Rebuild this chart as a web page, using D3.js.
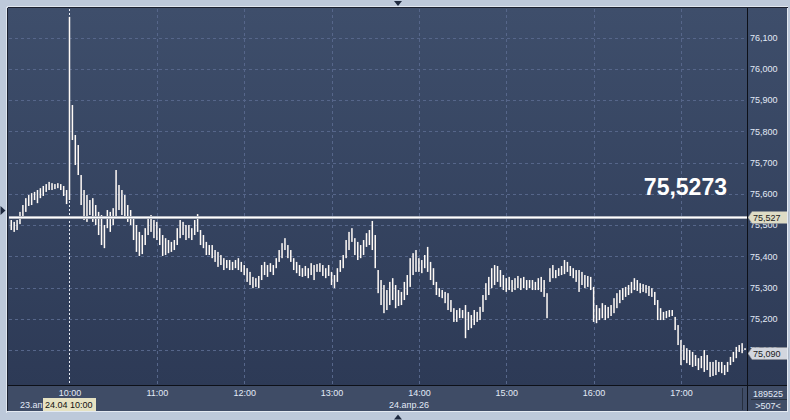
<!DOCTYPE html>
<html><head><meta charset="utf-8">
<script src="https://cdn.jsdelivr.net/npm/d3@7"></script>
<style>html,body{margin:0;padding:0;background:#bdc9da;} svg{display:block;font-family:"Liberation Sans",Arial,sans-serif;}</style>
</head><body><svg id="c" width="790" height="420"></svg>
<script>
// bars: 2-minute high/low, first bar starts 42 minutes before 10:00
const startMinute = -42, stepMinutes = 2;
const highs = [75.522,75.516,75.510,75.516,75.542,75.564,75.586,75.596,75.602,75.606,
75.612,75.618,75.625,75.631,75.638,75.634,75.631,75.634,75.631,75.625,
75.612,76.166,75.884,75.788,75.756,75.660,75.612,75.596,75.580,75.586,
75.564,75.542,75.532,75.500,75.548,75.542,75.554,75.676,75.628,75.612,
75.596,75.564,75.548,75.522,75.500,75.478,75.468,75.490,75.522,75.532,
75.516,75.510,75.490,75.468,75.458,75.452,75.446,75.452,75.490,75.516,
75.510,75.500,75.500,75.490,75.516,75.535,75.484,75.468,75.446,75.436,
75.436,75.420,75.414,75.404,75.394,75.388,75.388,75.382,75.388,75.394,
75.382,75.372,75.362,75.350,75.334,75.330,75.337,75.372,75.382,75.372,
75.378,75.372,75.394,75.420,75.442,75.458,75.436,75.420,75.394,75.382,
75.372,75.362,75.369,75.362,75.378,75.372,75.375,75.378,75.372,75.362,
75.372,75.350,75.340,75.362,75.388,75.404,75.452,75.478,75.490,75.458,
75.446,75.436,75.452,75.474,75.484,75.513,75.468,75.356,75.324,75.308,
75.292,75.318,75.330,75.308,75.292,75.286,75.318,75.340,75.394,75.410,
75.420,75.394,75.388,75.404,75.430,75.382,75.362,75.318,75.298,75.292,
75.286,75.282,75.260,75.234,75.228,75.234,75.228,75.244,75.222,75.212,
75.228,75.222,75.238,75.276,75.314,75.334,75.362,75.372,75.369,75.356,
75.340,75.330,75.334,75.324,75.330,75.337,75.330,75.334,75.324,75.324,
75.324,75.318,75.330,75.334,75.324,75.282,75.362,75.372,75.356,75.362,
75.369,75.388,75.382,75.369,75.362,75.356,75.356,75.350,75.340,75.337,
75.334,75.302,75.244,75.234,75.250,75.244,75.238,75.244,75.266,75.282,
75.292,75.298,75.302,75.308,75.318,75.330,75.324,75.314,75.311,75.308,
75.305,75.298,75.286,75.260,75.234,75.222,75.225,75.228,75.228,75.206,
75.180,75.132,75.116,75.106,75.100,75.094,75.084,75.074,75.081,75.100,
75.084,75.062,75.062,75.068,75.062,75.062,75.052,75.062,75.078,75.094,
75.110,75.116,75.122,75.106];
const lows = [75.490,75.484,75.478,75.484,75.503,75.522,75.542,75.561,75.564,75.580,
75.570,75.586,75.593,75.606,75.612,75.612,75.615,75.618,75.612,75.593,
75.567,75.580,75.772,75.692,75.660,75.564,75.516,75.510,75.532,75.510,
75.500,75.468,75.436,75.426,75.490,75.478,75.500,75.522,75.548,75.532,
75.522,75.510,75.500,75.452,75.414,75.401,75.407,75.436,75.468,75.478,
75.458,75.452,75.436,75.401,75.404,75.410,75.414,75.420,75.436,75.458,
75.468,75.452,75.458,75.452,75.468,75.478,75.436,75.426,75.404,75.404,
75.394,75.382,75.366,75.372,75.356,75.362,75.356,75.356,75.362,75.356,
75.350,75.340,75.318,75.308,75.298,75.302,75.298,75.324,75.340,75.334,
75.350,75.340,75.362,75.382,75.394,75.420,75.394,75.382,75.356,75.346,
75.337,75.334,75.337,75.330,75.340,75.324,75.350,75.350,75.337,75.330,
75.337,75.308,75.298,75.318,75.350,75.362,75.394,75.420,75.446,75.404,
75.388,75.394,75.404,75.430,75.436,75.420,75.362,75.282,75.244,75.218,
75.228,75.244,75.260,75.234,75.241,75.244,75.260,75.276,75.302,75.340,
75.350,75.350,75.346,75.362,75.350,75.324,75.308,75.276,75.270,75.266,
75.250,75.228,75.222,75.190,75.190,75.202,75.202,75.138,75.164,75.170,
75.180,75.190,75.196,75.222,75.260,75.276,75.298,75.308,75.318,75.302,
75.292,75.286,75.292,75.286,75.292,75.298,75.292,75.298,75.292,75.298,
75.292,75.292,75.292,75.286,75.270,75.202,75.318,75.330,75.330,75.337,
75.340,75.343,75.350,75.337,75.330,75.318,75.286,75.308,75.298,75.302,
75.292,75.190,75.186,75.196,75.202,75.196,75.202,75.209,75.218,75.234,
75.250,75.260,75.270,75.276,75.282,75.292,75.289,75.282,75.286,75.282,
75.273,75.270,75.244,75.196,75.196,75.196,75.202,75.206,75.209,75.164,
75.116,75.052,75.068,75.058,75.052,75.046,75.049,75.036,75.042,75.030,
75.036,75.014,75.017,75.020,75.030,75.026,75.020,75.030,75.052,75.062,
75.074,75.094,75.090,75.100];
const yTicks = [75.1,75.2,75.3,75.4,75.5,75.6,75.7,75.8,75.9,76.0,76.1];
const hourTicks = [0,60,120,180,240,300,360,420];
const hourLabels = ["10:00","11:00","12:00","13:00","14:00","15:00","16:00","17:00"];
const refLevel = 75.527, refLabel = "75,5273", refTag = "75,527";
const lastPrice = 75.090, lastTag = "75,090";
const prevDayLabel = "23.апр.26", dayLabel = "24.апр.26", dayStartLabel = "24.04 10:00";
const volumeLabel = "189525", barsLabel = ">507<";

const svg = d3.select("#c");
const PL = 9, PR = 747, PT = 9, PB = 385;
const x = d3.scaleLinear().domain([-41.55, 465.35]).range([PL, PR]);
const y = d3.scaleLinear().domain([75.0, 76.1]).range([381.3, 37.5]);

const defs = svg.append("defs");
const g1 = defs.append("linearGradient").attr("id","bg").attr("gradientUnits","userSpaceOnUse")
  .attr("x1",0).attr("y1",8).attr("x2",0).attr("y2",385);
g1.append("stop").attr("offset","0").attr("stop-color","#3e4e6b");
g1.append("stop").attr("offset","1").attr("stop-color","#2d3a56");
defs.append("clipPath").attr("id","clip").append("rect").attr("x",PL).attr("y",PT).attr("width",PR-PL).attr("height",PB-PT);
defs.append("clipPath").attr("id","clipPrev").append("rect").attr("x",8).attr("y",386).attr("width",35).attr("height",25);

svg.append("rect").attr("width",790).attr("height",420).attr("fill","#bdc9da");
svg.append("rect").attr("x",8).attr("y",8).attr("width",779).attr("height",378).attr("fill","url(#bg)");
svg.append("rect").attr("x",8).attr("y",386).attr("width",779).attr("height",25).attr("fill","#3f4c66");

const plot = svg.append("g").attr("clip-path","url(#clip)");
// grid
plot.selectAll(".hg").data(yTicks).join("line")
  .attr("x1",PL).attr("x2",PR).attr("y1",d=>Math.round(y(d))+0.5).attr("y2",d=>Math.round(y(d))+0.5)
  .attr("stroke","#56668a").attr("stroke-dasharray","3,3");
plot.selectAll(".vg").data(hourTicks.slice(1)).join("line")
  .attr("x1",d=>Math.round(x(d))+0.5).attr("x2",d=>Math.round(x(d))+0.5).attr("y1",PT).attr("y2",PB)
  .attr("stroke","#56668a").attr("stroke-dasharray","3,3");
plot.append("line").attr("x1",Math.round(x(0))+0.5).attr("x2",Math.round(x(0))+0.5).attr("y1",PT).attr("y2",PB)
  .attr("stroke","#e8ecf4").attr("stroke-dasharray","2,2");

// bars
const bars = highs.map((h,i)=>({m:startMinute+i*stepMinutes, h, l:lows[i]}));
plot.selectAll(".bar").data(bars).join("rect")
  .attr("x",d=>x(d.m)-0.75).attr("width",1.5)
  .attr("y",d=>y(d.h)).attr("height",d=>Math.max(1,y(d.l)-y(d.h)))
  .attr("fill","#fffaf6");

// reference level line
const ry = Math.round(y(refLevel))+0.5;
plot.append("line").attr("x1",PL).attr("x2",PR).attr("y1",ry).attr("y2",ry).attr("stroke","#b4b8c2").attr("stroke-width",3);
plot.append("line").attr("x1",PL).attr("x2",PR).attr("y1",ry).attr("y2",ry).attr("stroke","#ffffff").attr("stroke-width",1);
svg.append("text").attr("x",727).attr("y",195).attr("text-anchor","end").attr("font-size",23).attr("font-weight","bold")
  .attr("fill","#ffffff").text(refLabel);

// y axis
const fmt = d => d.toFixed(3).replace(".", ",");
const ya = svg.append("g").attr("transform","translate(750,0)")
  .call(d3.axisRight(y).tickValues(yTicks).tickSize(0).tickPadding(0).tickFormat(fmt));
ya.select(".domain").remove();
ya.selectAll("text").attr("fill","#e2eaf6").attr("font-size",9).attr("font-family","'Liberation Sans',Arial,sans-serif");

// x axis
const xa = svg.append("g").attr("transform","translate(0,386)")
  .call(d3.axisBottom(x).tickValues(hourTicks).tickSize(0).tickPadding(4).tickFormat((d,i)=>hourLabels[i]));
xa.select(".domain").remove();
xa.selectAll("text").attr("fill","#e2eaf6").attr("font-size",9).attr("font-family","'Liberation Sans',Arial,sans-serif");

// price tags
function tag(v, label, fill){
  const cy = Math.round(y(v))+0.5;
  svg.append("path").attr("d",`M748,${cy} L752,${cy-6} L788,${cy-6} L788,${cy+6} L752,${cy+6} Z`)
    .attr("fill",fill).attr("stroke","#8c8f96").attr("stroke-width",0.6);
  svg.append("text").attr("x",753).attr("y",cy+3.3).attr("font-size",9).attr("fill","#1a1a1a").text(label);
}
tag(refLevel, refTag, "#dedcc6");
tag(lastPrice, lastTag, "#d2d6de");

// bottom labels
svg.append("text").attr("x",20).attr("y",408).attr("font-size",9).attr("fill","#e2eaf6")
  .attr("clip-path","url(#clipPrev)").text(prevDayLabel);
svg.append("rect").attr("x",43).attr("y",398).attr("width",53).attr("height",13).attr("fill","#e6e2c2");
svg.append("text").attr("x",45).attr("y",408).attr("font-size",9).attr("fill","#111").text(dayStartLabel);
svg.append("text").attr("x",409).attr("y",408).attr("text-anchor","middle").attr("font-size",9).attr("fill","#e2eaf6").text(dayLabel);
svg.append("text").attr("x",768).attr("y",396.5).attr("text-anchor","middle").attr("font-size",9).attr("fill","#e2eaf6").text(volumeLabel);
svg.append("text").attr("x",768).attr("y",408.5).attr("text-anchor","middle").attr("font-size",9).attr("fill","#e2eaf6").text(barsLabel);
svg.append("line").attr("x1",751).attr("x2",787).attr("y1",399.5).attr("y2",399.5).attr("stroke","#27303f");
svg.append("line").attr("x1",742.5).attr("x2",742.5).attr("y1",388).attr("y2",410).attr("stroke","#262e3e");

// frame
svg.append("line").attr("x1",7).attr("x2",788).attr("y1",6.5).attr("y2",6.5).attr("stroke","#dfe6ef");
svg.append("line").attr("x1",6.5).attr("x2",6.5).attr("y1",7).attr("y2",413).attr("stroke","#dfe6ef");
svg.append("line").attr("x1",8).attr("x2",788).attr("y1",7.5).attr("y2",7.5).attr("stroke","#1b2130");
svg.append("line").attr("x1",7.5).attr("x2",7.5).attr("y1",8).attr("y2",412).attr("stroke","#1b2130");
svg.append("line").attr("x1",787.5).attr("x2",787.5).attr("y1",8).attr("y2",412).attr("stroke","#e4eaf2");
svg.append("line").attr("x1",7).attr("x2",788).attr("y1",411.5).attr("y2",411.5).attr("stroke","#e4eaf2");
svg.append("line").attr("x1",747.5).attr("x2",747.5).attr("y1",8).attr("y2",411).attr("stroke","#0d1018");
svg.append("line").attr("x1",8).attr("x2",787).attr("y1",385.5).attr("y2",385.5).attr("stroke","#0d1018");

// arrows
svg.append("path").attr("d","M394,1 L402,1 L398,6 Z").attr("fill","#1f2a40");
svg.append("path").attr("d","M394,419.5 L402,419.5 L398,414.5 Z").attr("fill","#1f2a40");
svg.append("path").attr("d","M0.5,206 L0.5,215 L5.5,210.5 Z").attr("fill","#1f2a40");
</script></body></html>
